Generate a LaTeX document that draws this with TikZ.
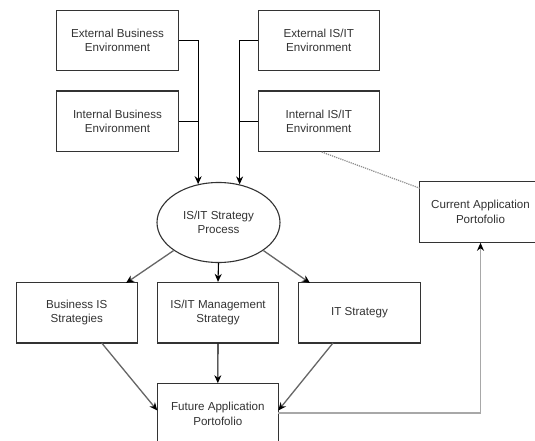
\documentclass[tikz,border=0pt]{standalone}
\usepackage{fontspec}
\setmainfont{Liberation Sans}
\usetikzlibrary{arrows.meta,calc,shapes.geometric}
\definecolor{boxline}{HTML}{333333}
\definecolor{txt}{HTML}{333333}
\definecolor{midgrey}{HTML}{666666}
\definecolor{lightgrey}{HTML}{A8A8A8}
\definecolor{dotgrey}{HTML}{8C8C8C}
\begin{document}
\begin{tikzpicture}[x=1pt,y=-1pt,
  every node/.style={font=\fontsize{11.6}{14.4}\selectfont, text=txt, align=center, inner sep=0pt},
  boxnode/.style={draw=boxline, line width=1.1pt, rectangle, minimum width=121.5pt, minimum height=60.5pt},
  ellnode/.style={draw=boxline, line width=1.1pt, ellipse, minimum width=123pt, minimum height=80pt},
  arr/.style={line width=1.1pt, -{Stealth[length=8pt,width=7pt,color=black]}},
  blackline/.style={arr, draw=black},
  greyline/.style={arr, draw=midgrey, line width=1.3pt},
  lightline/.style={arr, draw=lightgrey, line width=1.2pt},
  joinline/.style={draw=black, line width=1.1pt}
]
\useasboundingbox (0,0) rectangle (535,441);
\fill[white] (0,0) rectangle (535,441);

\node[boxnode] (eb)  at (117.5,40.5)  {External Business\\Environment};
\node[boxnode] (ib)  at (117.5,121.3) {Internal Business\\Environment};
\node[boxnode] (eis) at (318.8,40.5)  {External IS/IT\\Environment};
\node[boxnode] (iis) at (318.8,121.3) {Internal IS/IT\\Environment};
\node[ellnode] (ell) at (218.5,222.5) {IS/IT Strategy\\Process};
\node[boxnode] (bis) at (76.8,312.7)  {Business IS\\Strategies};
\node[boxnode] (mgmt) at (218,312.7)  {IS/IT Management\\Strategy};
\node[boxnode] (its) at (359.5,312.7) {IT Strategy};
\node[boxnode] (fut) at (217.8,414)   {Future Application\\Portofolio};
\node[boxnode] (cur) at (480.5,212)   {Current Application\\Portofolio};

% inputs into the strategy process
\draw[blackline] (eb.east) -| (ell.118.5);
\draw[joinline] (ib.east) -- (ib.east -| ell.118.5);
\draw[blackline] (eis.west) -| (ell.61.5);
\draw[joinline] (iis.west) -- (iis.west -| ell.61.5);

% strategy process to strategies
\coordinate (bistip) at (126,283);
\coordinate (itstip) at (310,283);
\draw[greyline] (ell.212) -- (bistip);
\draw[blackline] (ell.south) -- (mgmt.north);
\draw[greyline] (ell.328) -- (itstip);

% strategies to future portfolio
\coordinate (bisout) at (101.7,343);
\coordinate (itsout) at (333,343);
\coordinate (futl) at (157.3,410.5);
\coordinate (futr) at (278.3,410.5);
\draw[greyline] (bisout) -- (futl);
\draw[blackline] (mgmt.south) -- (fut.north);
\draw[greyline] (itsout) -- (futr);

% future to current
\coordinate (futo) at (278.3,413);
\draw[lightline] (futo) -| (cur.south);

% dotted link
\coordinate (iisb) at (321.7,152);
\coordinate (curl) at (420,188.3);
\draw[dotgrey, line width=1.2pt, densely dotted] (iisb) -- (curl);
\end{tikzpicture}
\end{document}
